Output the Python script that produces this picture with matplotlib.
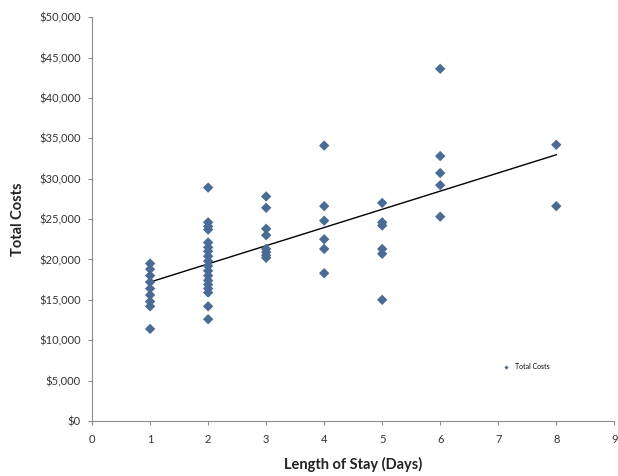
import numpy as np
import matplotlib
matplotlib.use("Agg")
import matplotlib.pyplot as plt
from matplotlib.ticker import FuncFormatter

# length of stay (days) and total costs
stay_1 = [1] * 9
cost_1 = [19500, 18800, 18000, 17200, 16400, 15600, 14800, 14200, 11400]

stay_2 = [2] * 18
cost_2 = [28900, 24600, 24100, 23700, 22100, 21500, 21000, 20400, 19800,
          19200, 18600, 18000, 17400, 16900, 16400, 15900, 14200, 12600]

stay_3 = [3] * 8
cost_3 = [27800, 26400, 23800, 23000, 21300, 20900, 20500, 20200]

stay_4 = [4] * 6
cost_4 = [34100, 26600, 24800, 22500, 21300, 18300]

stay_5 = [5] * 6
cost_5 = [27000, 24600, 24200, 21300, 20700, 15000]

stay_6 = [6] * 5
cost_6 = [43600, 32800, 30700, 29200, 25300]

stay_8 = [8] * 2
cost_8 = [34200, 26600]

x = np.array(stay_1 + stay_2 + stay_3 + stay_4 + stay_5 + stay_6 + stay_8)
y = np.array(cost_1 + cost_2 + cost_3 + cost_4 + cost_5 + cost_6 + cost_8)

plt.rcParams['font.family'] = ['Lato', 'DejaVu Sans']

fig = plt.figure(figsize=(6.18, 4.76), dpi=100)
ax = fig.add_axes([0.149, 0.1155, 0.845, 0.8485])

ax.scatter(x, y, marker='D', s=28, color='#4A6B93', edgecolors='none',
           label='Total Costs', zorder=3)

# linear trendline over the data range
slope, intercept = np.polyfit(x, y, 1)
xs = np.array([x.min(), x.max()])
ax.plot(xs, slope * xs + intercept, color='black', lw=1.0, zorder=2)

ax.set_xlim(0, 9)
ax.set_ylim(0, 50000)
ax.set_xticks(range(0, 10))
ax.set_yticks(range(0, 50001, 5000))
ax.yaxis.set_major_formatter(FuncFormatter(lambda v, p: '${:,.0f}'.format(v)))

for side in ['top', 'right']:
    ax.spines[side].set_visible(False)
for side in ['left', 'bottom']:
    ax.spines[side].set_color('#8c8c8c')
    ax.spines[side].set_linewidth(0.8)
ax.tick_params(axis='both', colors='#8c8c8c', labelcolor='#333333',
               labelsize=8, length=3, direction='out', width=0.8)
ax.tick_params(axis='x', pad=6)
ax.tick_params(axis='y', pad=5)

ax.set_xlabel('Length of Stay (Days)', fontsize=10.5, fontweight='bold',
              color='#222222', labelpad=9)
ax.set_ylabel('Total Costs', fontsize=10.5, fontweight='bold',
              color='#222222', labelpad=10)

ax.legend(loc='center left', bbox_to_anchor=(0.775, 0.134), frameon=False,
          fontsize=5, markerscale=0.4, handletextpad=0.2,
          borderaxespad=0)

fig.savefig('out.png', dpi=100)
